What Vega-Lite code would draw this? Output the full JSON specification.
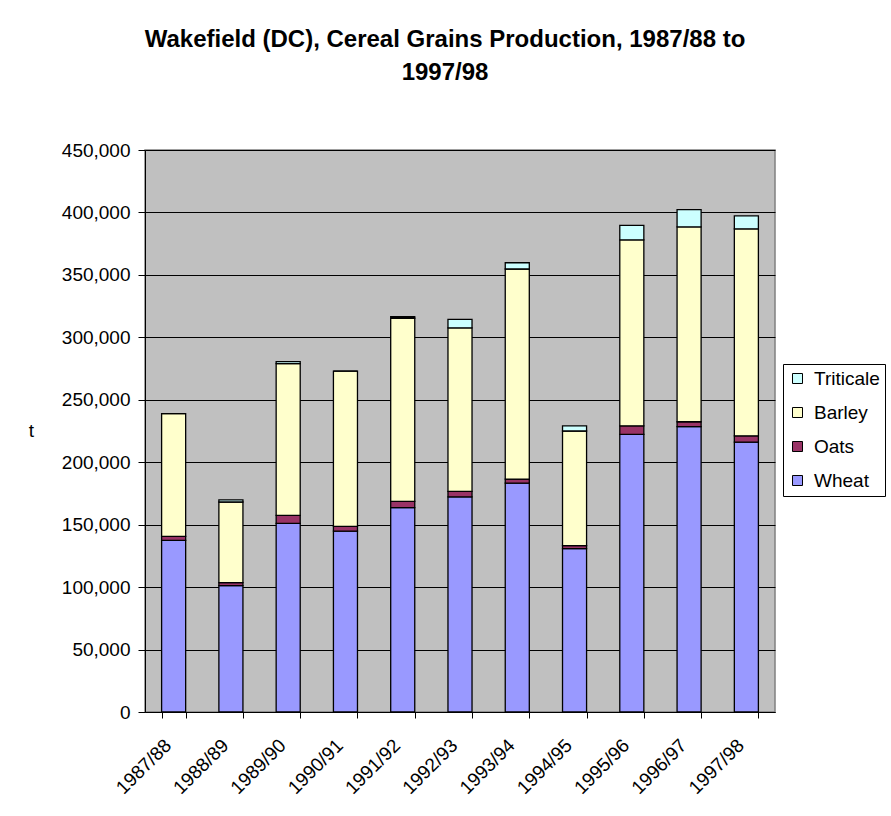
{
  "$schema": "https://vega.github.io/schema/vega-lite/v6.json",
  "width": 630,
  "height": 562,
  "autosize": {"type": "none"},
  "padding": {"left": 145, "top": 150, "right": 116, "bottom": 104},
  "background": "white",
  "title": {
    "text": ["Wakefield (DC), Cereal Grains Production, 1987/88 to", "1997/98"],
    "font": "Liberation Sans",
    "fontSize": 24,
    "fontWeight": "bold",
    "color": "black",
    "anchor": "middle",
    "dx": -15,
    "lineHeight": 33,
    "offset": 56
  },
  "data": {
    "values": [
      {"year": "1987/88", "crop": "Wheat", "ord": 1, "value": 137400},
      {"year": "1987/88", "crop": "Oats", "ord": 2, "value": 3200},
      {"year": "1987/88", "crop": "Barley", "ord": 3, "value": 98300},
      {"year": "1987/88", "crop": "Triticale", "ord": 4, "value": 0},
      {"year": "1988/89", "crop": "Wheat", "ord": 1, "value": 101250},
      {"year": "1988/89", "crop": "Oats", "ord": 2, "value": 2400},
      {"year": "1988/89", "crop": "Barley", "ord": 3, "value": 64500},
      {"year": "1988/89", "crop": "Triticale", "ord": 4, "value": 1700},
      {"year": "1989/90", "crop": "Wheat", "ord": 1, "value": 151000},
      {"year": "1989/90", "crop": "Oats", "ord": 2, "value": 6500},
      {"year": "1989/90", "crop": "Barley", "ord": 3, "value": 121400},
      {"year": "1989/90", "crop": "Triticale", "ord": 4, "value": 1700},
      {"year": "1990/91", "crop": "Wheat", "ord": 1, "value": 144800},
      {"year": "1990/91", "crop": "Oats", "ord": 2, "value": 3800},
      {"year": "1990/91", "crop": "Barley", "ord": 3, "value": 124350},
      {"year": "1990/91", "crop": "Triticale", "ord": 4, "value": 0},
      {"year": "1991/92", "crop": "Wheat", "ord": 1, "value": 163700},
      {"year": "1991/92", "crop": "Oats", "ord": 2, "value": 5000},
      {"year": "1991/92", "crop": "Barley", "ord": 3, "value": 146600},
      {"year": "1991/92", "crop": "Triticale", "ord": 4, "value": 1200},
      {"year": "1992/93", "crop": "Wheat", "ord": 1, "value": 172300},
      {"year": "1992/93", "crop": "Oats", "ord": 2, "value": 4400},
      {"year": "1992/93", "crop": "Barley", "ord": 3, "value": 130900},
      {"year": "1992/93", "crop": "Triticale", "ord": 4, "value": 6800},
      {"year": "1993/94", "crop": "Wheat", "ord": 1, "value": 183250},
      {"year": "1993/94", "crop": "Oats", "ord": 2, "value": 3250},
      {"year": "1993/94", "crop": "Barley", "ord": 3, "value": 168200},
      {"year": "1993/94", "crop": "Triticale", "ord": 4, "value": 5000},
      {"year": "1994/95", "crop": "Wheat", "ord": 1, "value": 130850},
      {"year": "1994/95", "crop": "Oats", "ord": 2, "value": 2350},
      {"year": "1994/95", "crop": "Barley", "ord": 3, "value": 91800},
      {"year": "1994/95", "crop": "Triticale", "ord": 4, "value": 4150},
      {"year": "1995/96", "crop": "Wheat", "ord": 1, "value": 222350},
      {"year": "1995/96", "crop": "Oats", "ord": 2, "value": 6800},
      {"year": "1995/96", "crop": "Barley", "ord": 3, "value": 148900},
      {"year": "1995/96", "crop": "Triticale", "ord": 4, "value": 11550},
      {"year": "1996/97", "crop": "Wheat", "ord": 1, "value": 228550},
      {"year": "1996/97", "crop": "Oats", "ord": 2, "value": 3850},
      {"year": "1996/97", "crop": "Barley", "ord": 3, "value": 156000},
      {"year": "1996/97", "crop": "Triticale", "ord": 4, "value": 13900},
      {"year": "1997/98", "crop": "Wheat", "ord": 1, "value": 216100},
      {"year": "1997/98", "crop": "Oats", "ord": 2, "value": 5050},
      {"year": "1997/98", "crop": "Barley", "ord": 3, "value": 165750},
      {"year": "1997/98", "crop": "Triticale", "ord": 4, "value": 10400}
    ]
  },
  "mark": {"type": "bar", "stroke": "black", "strokeWidth": 1.3},
  "encoding": {
    "x": {
      "field": "year",
      "type": "nominal",
      "sort": null,
      "scale": {"paddingInner": 0.58, "paddingOuter": 0.29},
      "axis": {
        "title": null,
        "labelAngle": -45,
        "labelAlign": "right",
        "labelBaseline": "middle",
        "labelFontSize": 19,
        "labelPadding": 24,
        "labelOffset": -6,
        "tickBand": "extent",
        "tickSize": 6,
        "tickColor": "black",
        "domainColor": "black",
        "labelColor": "black",
        "grid": false
      }
    },
    "y": {
      "field": "value",
      "type": "quantitative",
      "stack": "zero",
      "scale": {"domain": [0, 450000], "nice": false},
      "axis": {
        "title": "t",
        "titleAngle": 0,
        "titleX": -114,
        "titleY": 280,
        "titleAlign": "center",
        "titleBaseline": "middle",
        "titleFontSize": 19,
        "titleFontWeight": "normal",
        "titleColor": "black",
        "values": [0, 50000, 100000, 150000, 200000, 250000, 300000, 350000, 400000, 450000],
        "format": ",d",
        "labelFontSize": 19,
        "labelColor": "black",
        "labelPadding": 8,
        "tickSize": 7,
        "tickColor": "black",
        "domainColor": "black",
        "grid": true,
        "gridColor": "black",
        "gridOpacity": 1,
        "gridWidth": 1
      }
    },
    "color": {
      "field": "crop",
      "type": "nominal",
      "scale": {
        "domain": ["Wheat", "Oats", "Barley", "Triticale"],
        "range": ["#9999FF", "#993366", "#FFFFCC", "#CCFFFF"]
      },
      "legend": {
        "title": null,
        "orient": "none",
        "legendX": 638,
        "legendY": 214,
        "values": ["Triticale", "Barley", "Oats", "Wheat"],
        "strokeColor": "black",
        "fillColor": "white",
        "padding": 5,
        "rowPadding": 14,
        "labelFontSize": 19,
        "labelColor": "black",
        "labelOffset": 7,
        "symbolType": "square",
        "symbolSize": 100,
        "symbolStrokeColor": "black",
        "symbolStrokeWidth": 1,
        "symbolOpacity": 1
      }
    },
    "order": {"field": "ord", "type": "quantitative", "sort": "ascending"}
  },
  "config": {
    "font": "Liberation Sans",
    "view": {"fill": "#C0C0C0", "stroke": "#808080", "strokeWidth": 1.5}
  }
}
